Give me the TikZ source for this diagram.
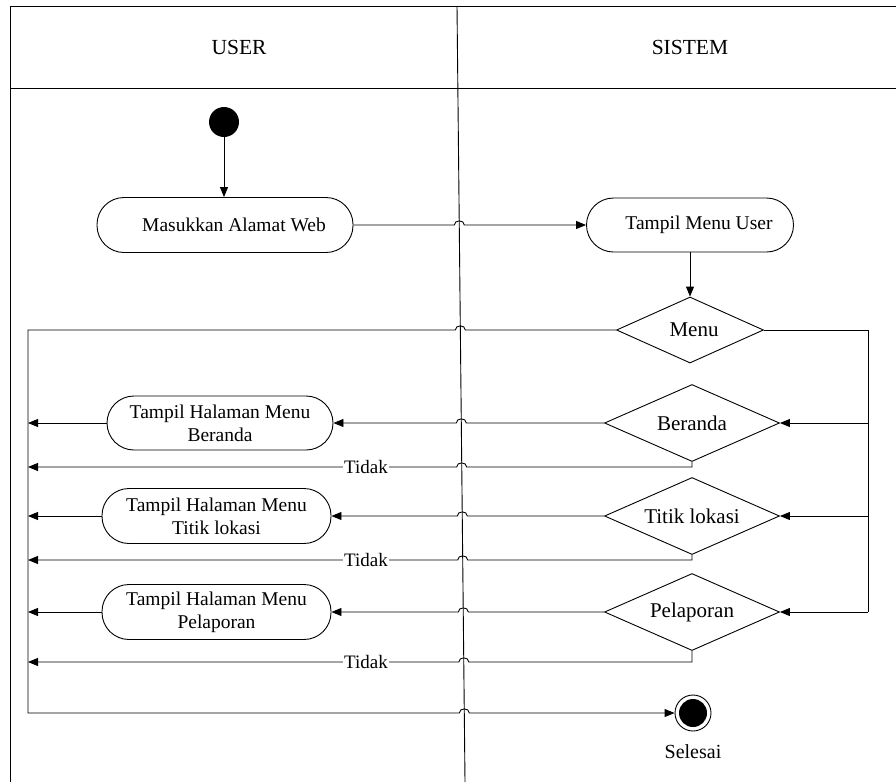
\documentclass[tikz,border=0pt]{standalone}
\usepackage{fontspec}
\setmainfont{Liberation Serif}
\usetikzlibrary{arrows.meta,shapes.geometric}
\begin{document}
\begin{tikzpicture}[x=1pt,y=-1pt,
  line width=0.9pt,
  every node/.style={inner sep=0pt},
  act/.style={draw, rectangle, rounded corners=27pt, minimum height=55pt, font=\fontsize{19.5}{23}\selectfont, align=center},
  dec/.style={draw, diamond, aspect=2.27, minimum width=175pt, minimum height=77pt, font=\fontsize{21}{25}\selectfont},
  arr/.style={-{Triangle[length=10pt,width=8pt]}},
  lbl/.style={font=\fontsize{19}{23}\selectfont, fill=white, inner sep=1.5pt},
  hdr/.style={font=\fontsize{21.5}{25}\selectfont},
  hl/.style 2 args={insert path={-- (#1+5,#2) .. controls (#1+5,#2-5.5) and (#1-5,#2-5.5) .. (#1-5,#2)}},
  hr/.style 2 args={insert path={-- (#1-5,#2) .. controls (#1-5,#2-5.5) and (#1+5,#2-5.5) .. (#1+5,#2)}}
]
\useasboundingbox (0,0) rectangle (896,782);
% frame
\draw (10,782) -- (10,6) -- (896,6);
\draw (10,88) -- (896,88);
\draw (457,6) -- (465,782);
\node[hdr] (huser) at (239,47) {USER};
\node[hdr] (hsis) at (690,47) {SISTEM};
% nodes
\node[circle, fill=black, minimum size=30pt] (start) at (224,122) {};
\node[act, minimum width=256pt] (masuk) at (225,225) {\hspace*{18pt}Masukkan Alamat Web};
\node[act, minimum width=207pt, minimum height=54pt] (tmu) at (690,225) {\hspace*{18pt}Tampil Menu User};
\node[dec, aspect=2.23, minimum width=147pt, minimum height=66pt] (menu) at (690,330) {\hspace*{8pt}Menu};
\node[dec] (ber) at (692,423) {Beranda};
\node[dec] (tit) at (692,516) {Titik lokasi};
\node[dec] (pel) at (692,612) {Pelaporan};
\node[act, minimum width=226pt, minimum height=54pt] (hb) at (220,423) {Tampil Halaman Menu\\Beranda};
\node[act, minimum width=229pt] (ht) at (216.5,516) {Tampil Halaman Menu\\Titik lokasi};
\node[act, minimum width=229pt] (hp) at (216.5,612) {Tampil Halaman Menu\\Pelaporan};
\node[circle, draw, fill=white, minimum size=36pt] (end) at (693,713) {};
\node[circle, fill=black, minimum size=28pt] (endin) at (end) {};
\node[font=\fontsize{20}{24}\selectfont] (sel) at (693,752) {Selesai};
% coordinates
\coordinate (ml) at (28,330);
\coordinate (bl) at (28,713);
\coordinate (mr) at (868,330);
\coordinate (rb) at (868,423);
\coordinate (rt) at (868,516);
\coordinate (rp) at (868,612);
\coordinate (hbL) at (28,423);
\coordinate (htL) at (28,516);
\coordinate (hpL) at (28,612);
\coordinate (tb1) at (692,467);
\coordinate (tb2) at (692,560);
\coordinate (tb3) at (692,662);
\coordinate (tl1) at (28,467);
\coordinate (tl2) at (28,560);
\coordinate (tl3) at (28,662);
% edges
\draw[arr] (start.south) -- (start.south |- masuk.north);
\draw[arr] (masuk.east) [hr={459.3}{225}] -- (tmu.west);
\draw[arr] (tmu.south -| menu.north) -- (menu.north);
\draw[arr] (menu.west) [hl={460.3}{330}] -- (ml) -- (bl) [hr={464.3}{713}] -- (end.west);
\draw (menu.east) -- (mr) -- (rp);
\draw[arr] (rp) -- (pel.east);
\draw[arr] (rb) -- (ber.east);
\draw[arr] (rt) -- (tit.east);
\draw[arr] (ber.west) [hl={461.3}{423}] -- (hb.east);
\draw[arr] (tit.west) [hl={462.3}{516}] -- (ht.east);
\draw[arr] (pel.west) [hl={463.3}{612}] -- (hp.east);
\draw[arr] (hb.west) -- (hbL);
\draw[arr] (ht.west) -- (htL);
\draw[arr] (hp.west) -- (hpL);
\draw[arr] (ber.south) -- (tb1) [hl={461.7}{467}] -- (tl1);
\draw[arr] (tit.south) -- (tb2) [hl={462.7}{560}] -- (tl2);
\draw[arr] (pel.south) -- (tb3) [hl={463.8}{662}] -- (tl3);
\node[lbl] (t1) at (366,467) {Tidak};
\node[lbl] (t2) at (366,560) {Tidak};
\node[lbl] (t3) at (366,662) {Tidak};
\end{tikzpicture}
\end{document}
